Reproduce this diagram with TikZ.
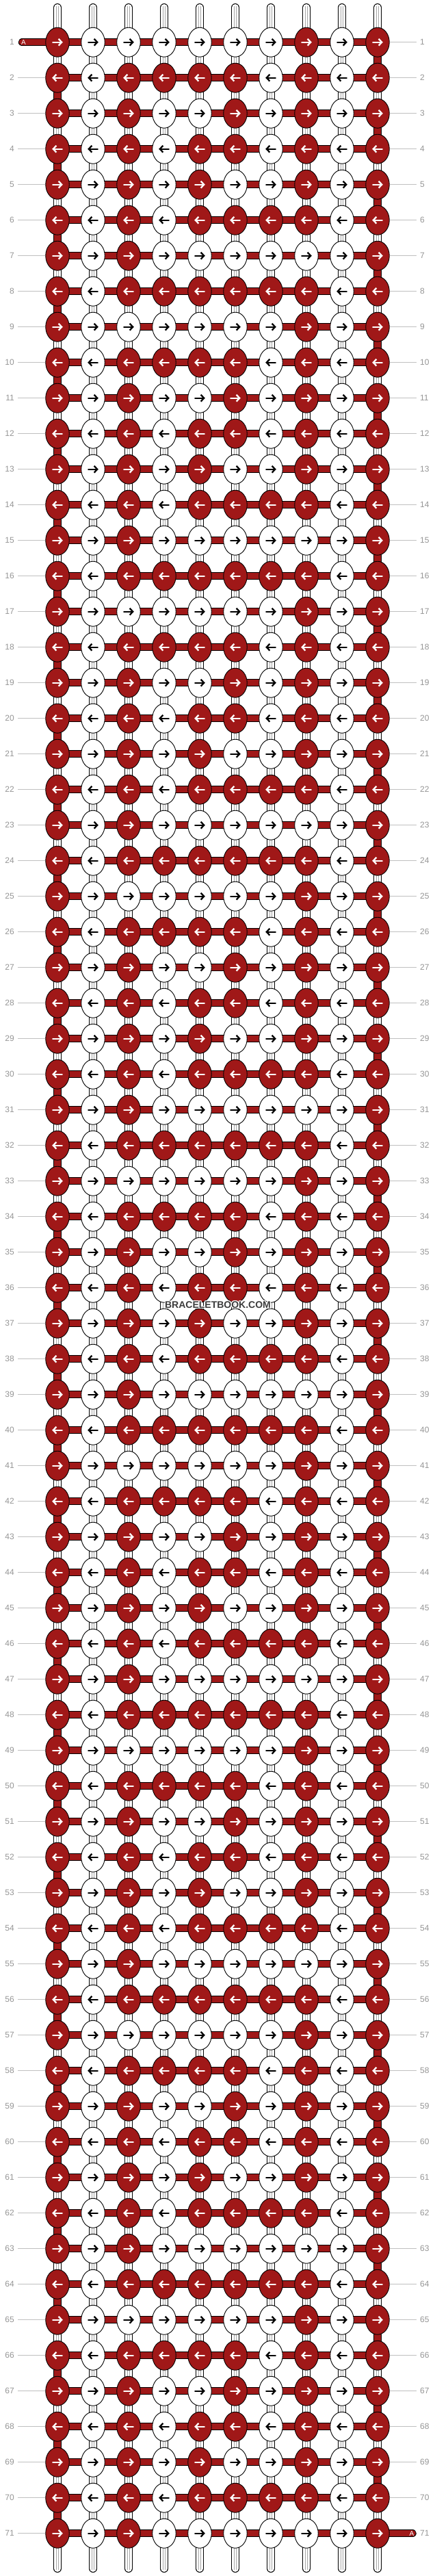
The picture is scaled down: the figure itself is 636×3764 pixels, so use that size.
\documentclass[tikz,border=0pt]{standalone}
\usepackage{fontspec}
\setmainfont{Liberation Sans}
\usetikzlibrary{arrows.meta,shapes.geometric}
\definecolor{knotred}{RGB}{160,24,24}
\definecolor{lblgray}{RGB}{150,150,150}
\definecolor{rulegray}{RGB}{192,192,192}
\definecolor{stripegray}{RGB}{165,165,165}
\definecolor{wmgray}{RGB}{60,60,60}
\expandafter\def\csname pat0\endcsname{0/1,1/0,2/0,3/0,4/0,5/0,6/0,7/1,8/0,9/1}
\expandafter\def\csname pat1\endcsname{0/1,1/0,2/1,3/1,4/1,5/1,6/0,7/1,8/0,9/1}
\expandafter\def\csname pat2\endcsname{0/1,1/0,2/1,3/0,4/0,5/1,6/0,7/1,8/0,9/1}
\expandafter\def\csname pat3\endcsname{0/1,1/0,2/1,3/0,4/1,5/1,6/0,7/1,8/0,9/1}
\expandafter\def\csname pat4\endcsname{0/1,1/0,2/1,3/0,4/1,5/0,6/0,7/1,8/0,9/1}
\expandafter\def\csname pat5\endcsname{0/1,1/0,2/1,3/0,4/1,5/1,6/1,7/1,8/0,9/1}
\expandafter\def\csname pat6\endcsname{0/1,1/0,2/1,3/0,4/0,5/0,6/0,7/0,8/0,9/1}
\expandafter\def\csname pat7\endcsname{0/1,1/0,2/1,3/1,4/1,5/1,6/1,7/1,8/0,9/1}
\tikzset{
  tubeout/.style={line width=12pt, line cap=round, black},
  tubein/.style={line width=10pt, line cap=round, white},
  stripeout/.style={line width=4pt, stripegray},
  stripein/.style={line width=2.4pt, white},
  turnout/.style={line width=12pt, black},
  turnin/.style={line width=10pt, knotred},
  hout/.style={line width=11.5pt, black, line cap=round},
  hin/.style={line width=9.5pt, knotred, line cap=round},
  knot/.style={ellipse, draw=black, line width=0.9pt, minimum width=34.5pt, minimum height=43pt, inner sep=0pt},
  arrw/.style={line width=2.3pt, line cap=round, -{Straight Barb[length=4.6pt,width=9.8pt]}},
  lbl/.style={font=\fontsize{12}{12}\selectfont, text=lblgray, inner ysep=0pt, inner xsep=5pt},
  rule/.style={draw=rulegray, line width=1pt},
  wm/.style={font=\bfseries\fontsize{14}{14}\selectfont, inner sep=0pt},
  alabel/.style={font=\fontsize{10}{10}\selectfont, text=white, inner sep=0pt}
}
\begin{document}
\begin{tikzpicture}[x=1pt,y=-1pt]
\useasboundingbox (0,0) rectangle (636,3764);
\fill[white] (0,0) rectangle (636,3764);
% grid coordinates
\foreach \r in {1,...,71}{
  \pgfmathsetmacro\yy{61.7+52*(\r-1)}
  \foreach \c in {0,...,9}{
    \pgfmathsetmacro\xx{84+52*\c}
    \coordinate (p-\r-\c) at (\xx,\yy);
  }
}
% vertical strings
\foreach \c in {0,...,9}{
  \pgfmathsetmacro\xx{84+52*\c}
  \coordinate (t-\c) at (\xx,11);
  \coordinate (b-\c) at (\xx,3753);
  \coordinate (ts-\c) at (\xx,9);
  \coordinate (bs-\c) at (\xx,3755);
  \draw[tubeout] (t-\c) -- (b-\c);
  \draw[tubein] (t-\c) -- (b-\c);
  \draw[stripeout] (ts-\c) -- (bs-\c);
  \draw[stripein] (ts-\c) -- (bs-\c);
}
% turnarounds of the red string
\foreach \r in {1,...,70}{
  \pgfmathtruncatemacro\rn{\r+1}
  \ifodd\r\relax\def\tc{9}\else\def\tc{0}\fi
  \draw[turnout] (p-\r-\tc) -- (p-\rn-\tc);
  \draw[turnin] (p-\r-\tc) -- (p-\rn-\tc);
}
% horizontal red string
\coordinate (a-start) at (32.5,61.7);
\coordinate (a-end) at (603,3701.7);
\draw[hout] (a-start) -- (p-1-9);
\draw[hin] (a-start) -- (p-1-9);
\foreach \r in {2,...,70}{
  \draw[hout] (p-\r-0) -- (p-\r-9);
  \draw[hin] (p-\r-0) -- (p-\r-9);
}
\draw[hout] (p-71-0) -- (a-end);
\draw[hin] (p-71-0) -- (a-end);
\node[alabel] (a-left) at (34.5,61.7) {A};
\node[alabel] (a-right) at (602,3701.7) {A};
% knots
\foreach \r in {1,...,71}{
  \pgfmathtruncatemacro\m{mod(\r-1,8)}
  \edef\plist{\csname pat\m\endcsname}
  \foreach \c/\v in \plist {
    \ifnum\v=1 \def\kf{knotred}\def\ac{white}\else\def\kf{white}\def\ac{black}\fi
    \node[knot, fill=\kf] (k-\r-\c) at (p-\r-\c) {};
    \ifodd\r\relax
      \draw[arrw, draw=\ac] ([xshift=-6.8pt]k-\r-\c.center) -- ([xshift=7.8pt]k-\r-\c.center);
    \else
      \draw[arrw, draw=\ac] ([xshift=6.8pt]k-\r-\c.center) -- ([xshift=-7.8pt]k-\r-\c.center);
    \fi
  }
}
% row labels
\foreach \r in {1,...,71}{
  \pgfmathsetmacro\yy{61.7+52*(\r-1)}
  \node[lbl, anchor=east] (ll-\r) at (26,\yy) {\r};
  \node[lbl, anchor=west] (rl-\r) at (609,\yy) {\r};
}
\foreach \r in {2,...,71}{
  \draw[rule] (ll-\r) -- (k-\r-0);
}
\foreach \r in {1,...,70}{
  \draw[rule] (k-\r-9) -- (rl-\r);
}
% watermark
\foreach \dx/\dy [count=\i] in {1/0,-1/0,0/1,0/-1,1/1,-1/1,1/-1,-1/-1}{
  \node[wm, text=white] (wmh-\i) at (318.5+\dx,1907+\dy) {BRACELETBOOK.COM};
}
\node[wm, text=wmgray] (wm) at (318.5,1907) {BRACELETBOOK.COM};
\end{tikzpicture}
\end{document}
